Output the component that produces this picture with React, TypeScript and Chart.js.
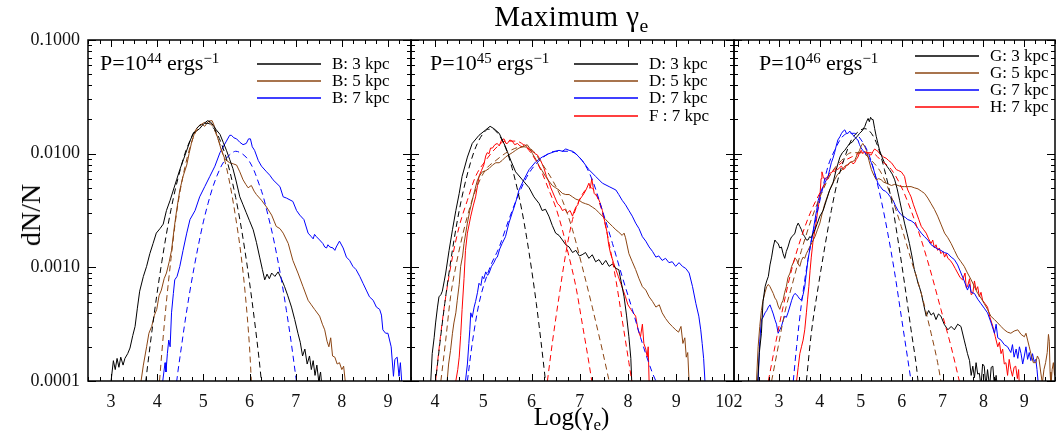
import React, { useEffect, useRef } from 'react';
import { Chart, registerables } from 'chart.js';
Chart.register(...registerables);

// ---------------- DATA ----------------
const X_TICKS_P1 = [3, 4, 5, 6, 7, 8, 9];
const X_TICKS_P2 = [4, 5, 6, 7, 8, 9, 10];
const X_TICKS_P3 = [2, 3, 4, 5, 6, 7, 8, 9];
const Y_TICKS = [0.0001, 0.001, 0.01, 0.1];
const X_RANGE_P1 = [2.5, 9.5];
const X_RANGE_P2 = [3.5, 10.2];
const X_RANGE_P3 = [1.9, 9.75];
const Y_RANGE = [0.0001, 0.1];

const POWERS = ['44', '45', '46'];
const LEGEND_P1 = ['B: 3 kpc', 'B: 5 kpc', 'B: 7 kpc'];
const LEGEND_P2 = ['D: 3 kpc', 'D: 5 kpc', 'D: 7 kpc', 'F : 7 kpc'];
const LEGEND_P3 = ['G: 3 kpc', 'G: 5 kpc', 'G: 7 kpc', 'H: 7 kpc'];

// Panel 1 (P = 1e44)
const P1_B3 = [[3.00,0.0001],[3.05,0.000151],[3.09,0.000126],[3.13,0.000158],[3.17,0.000132],[3.21,0.000162],[3.26,0.000138],[3.30,0.000158],[3.36,0.000174],[3.41,0.000195],[3.47,0.000251],[3.52,0.000302],[3.57,0.000437],[3.62,0.000617],[3.70,0.000832],[3.77,0.00102],[3.84,0.00132],[3.91,0.00162],[3.98,0.0020],[4.06,0.00219],[4.13,0.0024],[4.20,0.00316],[4.28,0.00389],[4.35,0.00479],[4.42,0.00589],[4.49,0.00724],[4.57,0.00891],[4.64,0.0107],[4.71,0.0129],[4.78,0.0151],[4.85,0.0158],[4.92,0.0166],[5.00,0.0182],[5.09,0.0195],[5.15,0.0191],[5.21,0.0178],[5.28,0.0162],[5.36,0.0148],[5.43,0.0126],[5.50,0.0107],[5.57,0.00891],[5.64,0.00741],[5.71,0.00575],[5.79,0.00417],[5.86,0.00355],[5.93,0.00302],[6.00,0.00257],[6.08,0.00214],[6.15,0.00166],[6.22,0.00123],[6.28,0.000955],[6.33,0.000776],[6.38,0.000871],[6.43,0.000794],[6.48,0.000891],[6.55,0.000832],[6.62,0.000912],[6.69,0.000794],[6.76,0.000676],[6.83,0.000562],[6.91,0.000447],[6.98,0.000347],[7.05,0.000263],[7.10,0.000219],[7.15,0.000166],[7.20,0.000191],[7.25,0.000141],[7.30,0.000166],[7.34,0.000126],[7.38,0.000151],[7.42,0.000112],[7.46,0.000138],[7.50,0.0001],[7.54,0.00012],[7.57,0.0000891]];
const P1_B3_FIT = [[3.75,0.0000977],[3.80,0.000145],[3.90,0.000305],[4.00,0.000603],[4.10,0.00112],[4.20,0.00197],[4.30,0.00324],[4.40,0.00501],[4.50,0.00724],[4.60,0.0100],[4.70,0.0127],[4.80,0.0155],[4.90,0.0174],[5.00,0.0185],[5.10,0.0185],[5.20,0.0172],[5.30,0.0149],[5.40,0.0120],[5.50,0.00904],[5.60,0.00631],[5.70,0.00412],[5.80,0.00251],[5.90,0.00141],[6.00,0.000741],[6.10,0.000363],[6.20,0.000166],[6.26,0.0000977]];
const P1_B5 = [[3.65,0.0001],[3.70,0.000138],[3.77,0.0002],[3.82,0.000263],[3.88,0.000302],[3.94,0.00038],[3.99,0.000427],[4.04,0.000562],[4.09,0.000631],[4.15,0.000794],[4.20,0.000891],[4.26,0.00112],[4.31,0.00141],[4.37,0.00224],[4.42,0.00316],[4.49,0.00479],[4.56,0.00631],[4.64,0.00794],[4.69,0.0100],[4.74,0.0123],[4.82,0.0158],[4.87,0.0170],[4.92,0.0178],[4.97,0.0182],[5.03,0.0174],[5.10,0.0191],[5.15,0.0195],[5.19,0.0195],[5.24,0.0174],[5.28,0.0151],[5.34,0.0126],[5.39,0.0107],[5.47,0.00891],[5.57,0.00832],[5.65,0.00813],[5.72,0.00794],[5.79,0.00692],[5.86,0.00589],[5.92,0.00537],[5.97,0.00501],[6.04,0.00525],[6.10,0.00468],[6.15,0.00437],[6.26,0.00389],[6.37,0.00339],[6.48,0.00288],[6.54,0.00251],[6.58,0.00229],[6.66,0.00219],[6.73,0.0020],[6.84,0.00162],[6.94,0.00115],[7.05,0.000891],[7.16,0.000676],[7.27,0.000513],[7.34,0.000468],[7.41,0.000427],[7.52,0.000372],[7.58,0.000316],[7.63,0.000282],[7.68,0.000224],[7.72,0.0002],[7.76,0.00024],[7.80,0.000166],[7.85,0.000162],[7.90,0.000141],[7.95,0.000145],[8.00,0.000126],[8.04,0.000135],[8.08,0.0000955]];
const P1_B5_FIT = [[4.05,0.0001],[4.10,0.000178],[4.20,0.000501],[4.30,0.0012],[4.40,0.00263],[4.50,0.00479],[4.60,0.00759],[4.70,0.011],[4.80,0.0145],[4.90,0.017],[5.00,0.0186],[5.10,0.0191],[5.20,0.0174],[5.30,0.0141],[5.40,0.0107],[5.50,0.00759],[5.60,0.00479],[5.70,0.00275],[5.80,0.00145],[5.90,0.000631],[6.00,0.0002],[6.04,0.0001]];
const P1_B7 = [[4.12,0.0001],[4.17,0.000145],[4.19,0.00012],[4.22,0.000174],[4.25,0.000229],[4.28,0.0002],[4.31,0.000398],[4.35,0.000589],[4.38,0.000776],[4.43,0.000832],[4.49,0.00102],[4.56,0.00141],[4.64,0.0020],[4.71,0.00263],[4.82,0.00316],[4.92,0.00417],[5.03,0.00513],[5.14,0.00631],[5.25,0.00776],[5.36,0.0102],[5.50,0.0129],[5.57,0.0145],[5.61,0.0145],[5.66,0.0138],[5.72,0.0135],[5.79,0.0126],[5.86,0.012],[5.93,0.0123],[5.98,0.0135],[6.02,0.0135],[6.06,0.0115],[6.11,0.0107],[6.19,0.00871],[6.26,0.00776],[6.37,0.00692],[6.44,0.00646],[6.51,0.00589],[6.66,0.00513],[6.73,0.00417],[6.80,0.00407],[6.94,0.0038],[7.02,0.00316],[7.09,0.00288],[7.18,0.00263],[7.27,0.0020],[7.34,0.00186],[7.38,0.00178],[7.41,0.00195],[7.45,0.00186],[7.52,0.00174],[7.59,0.00162],[7.63,0.00151],[7.67,0.00148],[7.70,0.00158],[7.74,0.00151],[7.81,0.00148],[7.85,0.00141],[7.88,0.00151],[7.95,0.0017],[8.03,0.00148],[8.10,0.00123],[8.17,0.00115],[8.24,0.00102],[8.31,0.000955],[8.39,0.000832],[8.46,0.000724],[8.53,0.000631],[8.60,0.00055],[8.68,0.000513],[8.75,0.000447],[8.82,0.000427],[8.86,0.00038],[8.89,0.000282],[8.95,0.000263],[9.00,0.000263],[9.07,0.0002],[9.12,0.00011],[9.15,0.000155],[9.20,0.000162],[9.24,0.00011],[9.27,0.000145],[9.30,0.0000977]];
const P1_B7_FIT = [[4.42,0.0000977],[4.45,0.000122],[4.50,0.00017],[4.60,0.000327],[4.70,0.000589],[4.80,0.001],[4.90,0.00162],[5.00,0.00251],[5.10,0.00363],[5.20,0.00501],[5.30,0.00646],[5.40,0.00794],[5.50,0.00912],[5.60,0.01],[5.70,0.0105],[5.80,0.0102],[5.90,0.00955],[6.00,0.00851],[6.10,0.00708],[6.20,0.0055],[6.30,0.00417],[6.40,0.00288],[6.50,0.00195],[6.60,0.00123],[6.70,0.000741],[6.80,0.000417],[6.90,0.000224],[7.00,0.000112],[7.02,0.0000977]];

// Panel 2 (P = 1e45)
const P2_D3 = [[3.91,0.0001],[3.94,0.000174],[3.98,0.00024],[4.01,0.000324],[4.05,0.000447],[4.08,0.00055],[4.12,0.000575],[4.15,0.000617],[4.19,0.000759],[4.22,0.000891],[4.29,0.00141],[4.36,0.00214],[4.43,0.00316],[4.50,0.00447],[4.56,0.00631],[4.67,0.00933],[4.77,0.0123],[4.91,0.0145],[5.05,0.0162],[5.14,0.0174],[5.22,0.0166],[5.33,0.0151],[5.46,0.0115],[5.57,0.00871],[5.67,0.00692],[5.81,0.00589],[5.95,0.00501],[6.05,0.00417],[6.16,0.00363],[6.22,0.00316],[6.29,0.00324],[6.36,0.00282],[6.43,0.00234],[6.50,0.0020],[6.57,0.00191],[6.64,0.00174],[6.71,0.00158],[6.78,0.00151],[6.85,0.00135],[6.92,0.00141],[6.99,0.00126],[7.05,0.00129],[7.12,0.00135],[7.19,0.0012],[7.26,0.00129],[7.33,0.00112],[7.40,0.00117],[7.47,0.00105],[7.54,0.00115],[7.61,0.00102],[7.68,0.00107],[7.75,0.000977],[7.81,0.000955],[7.87,0.000708],[7.92,0.00055],[7.97,0.00038],[8.02,0.000245],[8.06,0.000158],[8.08,0.0000955]];
const P2_D3_FIT = [[4.00,0.0000912],[4.05,0.000141],[4.10,0.000216],[4.20,0.000479],[4.30,0.000966],[4.40,0.00182],[4.50,0.00316],[4.60,0.00501],[4.70,0.00741],[4.80,0.0102],[4.90,0.0129],[5.00,0.0151],[5.10,0.0164],[5.20,0.0164],[5.30,0.0151],[5.40,0.0129],[5.50,0.0102],[5.60,0.00741],[5.70,0.00501],[5.80,0.00316],[5.90,0.00182],[6.00,0.000966],[6.10,0.000479],[6.20,0.000216],[6.25,0.000141],[6.30,0.0000912]];
const P2_D5 = [[4.25,0.0001],[4.28,0.000141],[4.32,0.000186],[4.36,0.000263],[4.39,0.000324],[4.43,0.000398],[4.46,0.000513],[4.50,0.000708],[4.53,0.00102],[4.57,0.00126],[4.60,0.00162],[4.67,0.00245],[4.72,0.00316],[4.77,0.00389],[4.83,0.0049],[4.88,0.00589],[4.93,0.00646],[4.98,0.00692],[5.05,0.00708],[5.12,0.00741],[5.19,0.00794],[5.26,0.00832],[5.33,0.00832],[5.39,0.00871],[5.46,0.00933],[5.53,0.00977],[5.60,0.0102],[5.67,0.0107],[5.74,0.0112],[5.81,0.0115],[5.86,0.0117],[5.91,0.012],[5.96,0.0112],[6.02,0.0100],[6.09,0.00891],[6.16,0.00776],[6.22,0.00708],[6.29,0.00631],[6.36,0.00575],[6.43,0.00525],[6.50,0.00501],[6.57,0.00479],[6.64,0.00447],[6.71,0.00437],[6.78,0.00437],[6.85,0.00417],[6.92,0.00398],[6.99,0.00389],[7.05,0.00372],[7.12,0.00363],[7.19,0.00355],[7.26,0.00339],[7.33,0.00324],[7.40,0.00302],[7.47,0.00282],[7.54,0.00263],[7.61,0.00245],[7.68,0.00229],[7.75,0.00214],[7.81,0.00204],[7.88,0.00191],[7.92,0.0020],[7.95,0.00182],[8.02,0.00132],[8.09,0.00112],[8.16,0.000955],[8.23,0.000794],[8.30,0.000676],[8.37,0.000631],[8.44,0.00055],[8.51,0.000501],[8.58,0.000447],[8.65,0.000468],[8.71,0.000398],[8.78,0.000355],[8.85,0.000324],[8.92,0.000302],[8.99,0.000282],[9.05,0.000269],[9.10,0.000302],[9.14,0.000214],[9.18,0.00024],[9.21,0.000162],[9.24,0.000178],[9.27,0.0000955]];
const P2_D5_FIT = [[4.12,0.0001],[4.22,0.000229],[4.32,0.00055],[4.43,0.00102],[4.53,0.00162],[4.67,0.00282],[4.84,0.00479],[5.05,0.00724],[5.26,0.00871],[5.53,0.0105],[5.81,0.0115],[6.02,0.0107],[6.22,0.00813],[6.43,0.00589],[6.64,0.00389],[6.85,0.00214],[7.05,0.00102],[7.26,0.000447],[7.47,0.000186],[7.61,0.0001]];
const P2_D7 = [[4.63,0.0001],[4.67,0.000141],[4.70,0.000214],[4.72,0.000282],[4.74,0.000398],[4.77,0.000363],[4.81,0.000447],[4.84,0.000501],[4.88,0.000603],[4.91,0.000724],[4.95,0.000692],[4.98,0.000832],[5.01,0.000794],[5.05,0.000912],[5.09,0.000851],[5.12,0.000891],[5.17,0.00102],[5.22,0.0011],[5.26,0.0012],[5.29,0.00123],[5.34,0.00145],[5.39,0.00162],[5.46,0.00186],[5.53,0.00245],[5.60,0.00302],[5.64,0.00339],[5.69,0.00398],[5.74,0.00479],[5.84,0.00589],[5.95,0.00724],[6.09,0.00851],[6.22,0.00933],[6.36,0.0100],[6.50,0.0105],[6.57,0.0107],[6.64,0.0105],[6.71,0.011],[6.78,0.0107],[6.85,0.0105],[6.92,0.0100],[7.05,0.00871],[7.19,0.00724],[7.33,0.00631],[7.47,0.0055],[7.61,0.00513],[7.75,0.00479],[7.81,0.00437],[7.88,0.00389],[7.95,0.00355],[8.02,0.00316],[8.09,0.00282],[8.16,0.00245],[8.23,0.00219],[8.30,0.00186],[8.37,0.0017],[8.44,0.00151],[8.51,0.00138],[8.58,0.00123],[8.64,0.00126],[8.71,0.00115],[8.78,0.0012],[8.85,0.0011],[8.92,0.00112],[8.99,0.00102],[9.06,0.0011],[9.13,0.00102],[9.20,0.000977],[9.27,0.000891],[9.34,0.000676],[9.41,0.000479],[9.47,0.000372],[9.51,0.000282],[9.54,0.000214],[9.57,0.000158],[9.60,0.0000955]];
const P2_D7_FIT = [[4.67,0.0001],[4.77,0.000214],[4.91,0.000479],[5.12,0.000955],[5.33,0.00151],[5.53,0.00263],[5.74,0.00447],[5.95,0.00676],[6.22,0.00912],[6.50,0.0105],[6.78,0.0105],[7.05,0.00871],[7.26,0.00589],[7.47,0.00316],[7.68,0.00162],[7.88,0.000832],[8.09,0.000427],[8.30,0.000214],[8.51,0.000117],[8.58,0.0001]];
const P2_F7 = [[4.43,0.0001],[4.47,0.000126],[4.50,0.000162],[4.53,0.000251],[4.56,0.000427],[4.60,0.000794],[4.63,0.00141],[4.67,0.0020],[4.74,0.00282],[4.79,0.00347],[4.84,0.00417],[4.88,0.00525],[4.91,0.00631],[4.96,0.00708],[5.01,0.00794],[5.05,0.00955],[5.08,0.0102],[5.12,0.0100],[5.15,0.0112],[5.19,0.0112],[5.24,0.012],[5.29,0.0123],[5.33,0.0117],[5.38,0.0132],[5.43,0.0135],[5.47,0.0123],[5.50,0.0123],[5.55,0.0132],[5.60,0.0129],[5.65,0.012],[5.71,0.0123],[5.76,0.0117],[5.81,0.0115],[5.86,0.012],[5.91,0.0115],[5.97,0.0107],[6.02,0.0105],[6.07,0.0100],[6.12,0.00977],[6.19,0.00871],[6.26,0.00741],[6.31,0.00631],[6.36,0.00562],[6.40,0.00501],[6.43,0.00468],[6.48,0.00417],[6.54,0.00363],[6.59,0.00347],[6.64,0.00316],[6.69,0.00324],[6.74,0.00302],[6.80,0.00316],[6.85,0.00282],[6.88,0.00309],[6.92,0.00339],[6.96,0.00355],[6.99,0.00389],[7.04,0.00417],[7.09,0.00447],[7.14,0.0049],[7.19,0.0055],[7.22,0.00501],[7.25,0.00603],[7.28,0.00501],[7.30,0.00447],[7.37,0.00417],[7.42,0.00372],[7.47,0.00316],[7.52,0.00251],[7.57,0.0020],[7.60,0.00158],[7.64,0.00132],[7.70,0.0011],[7.75,0.000955],[7.80,0.000832],[7.85,0.000724],[7.90,0.000631],[7.95,0.00055],[8.00,0.000468],[8.06,0.000427],[8.11,0.000398],[8.16,0.000372],[8.21,0.000282],[8.26,0.000245],[8.30,0.000316],[8.33,0.000214],[8.37,0.000191],[8.40,0.000162],[8.42,0.0002],[8.44,0.0000955]];
const P2_F7_FIT_A = [[4.01,0.0001],[4.11,0.000245],[4.22,0.00055],[4.36,0.00123],[4.50,0.00229],[4.67,0.00389],[4.84,0.00631],[5.05,0.00871],[5.26,0.0112],[5.46,0.0129],[5.67,0.0129],[5.88,0.0115],[6.09,0.00871],[6.22,0.00676],[6.36,0.00479],[6.50,0.00339],[6.64,0.00214],[6.78,0.00123],[6.92,0.000676],[7.05,0.000324],[7.19,0.000145],[7.25,0.0001]];
const P2_F7_FIT_B = [[6.33,0.0001],[6.43,0.000214],[6.57,0.00055],[6.71,0.00132],[6.85,0.00263],[6.99,0.00389],[7.12,0.00479],[7.23,0.00501],[7.33,0.00447],[7.47,0.00302],[7.61,0.00162],[7.75,0.000776],[7.88,0.000347],[8.02,0.000145],[8.08,0.0001]];

// Panel 3 (P = 1e46)
const P3_G3 = [[2.48,0.0001],[2.52,0.000178],[2.57,0.000263],[2.61,0.000501],[2.66,0.000676],[2.70,0.000759],[2.74,0.000832],[2.78,0.00105],[2.82,0.00123],[2.86,0.00151],[2.90,0.00174],[2.94,0.00166],[2.98,0.00162],[3.02,0.00148],[3.06,0.00151],[3.10,0.00132],[3.14,0.0012],[3.18,0.00138],[3.22,0.00151],[3.27,0.00174],[3.31,0.00186],[3.35,0.00191],[3.39,0.0020],[3.43,0.00229],[3.47,0.00245],[3.51,0.00229],[3.55,0.00214],[3.59,0.00195],[3.63,0.00186],[3.67,0.00174],[3.71,0.00174],[3.75,0.00186],[3.79,0.00182],[3.84,0.0020],[3.88,0.00214],[3.94,0.00245],[4.00,0.00282],[4.08,0.00316],[4.16,0.00389],[4.24,0.00479],[4.32,0.0055],[4.40,0.00724],[4.49,0.00933],[4.55,0.0102],[4.61,0.0107],[4.67,0.0115],[4.73,0.0123],[4.79,0.0126],[4.85,0.0135],[4.91,0.0141],[4.97,0.0151],[5.03,0.0158],[5.10,0.0174],[5.14,0.0191],[5.18,0.0204],[5.21,0.0191],[5.24,0.0209],[5.27,0.020],[5.30,0.020],[5.34,0.0166],[5.38,0.0141],[5.42,0.0123],[5.46,0.0107],[5.52,0.00933],[5.58,0.00832],[5.64,0.00776],[5.70,0.00724],[5.77,0.00661],[5.83,0.00589],[5.89,0.0049],[5.95,0.00389],[6.01,0.00309],[6.07,0.00245],[6.13,0.0020],[6.19,0.00162],[6.25,0.00126],[6.31,0.000955],[6.36,0.000832],[6.40,0.000724],[6.44,0.000661],[6.48,0.000589],[6.54,0.000468],[6.60,0.000372],[6.66,0.000417],[6.72,0.00038],[6.78,0.000398],[6.84,0.000347],[6.90,0.000389],[6.96,0.000372],[7.04,0.000316],[7.13,0.000282],[7.21,0.000302],[7.29,0.000282],[7.37,0.000316],[7.45,0.000302],[7.53,0.000229],[7.57,0.0002],[7.61,0.000174],[7.66,0.000151],[7.70,0.000112],[7.74,0.000135],[7.78,0.000107],[7.82,0.000145],[7.86,0.000115],[7.90,0.000117],[7.94,0.0000891],[7.98,0.000141],[8.02,0.000135],[8.06,0.0000891],[8.10,0.000126],[8.15,0.0000891],[8.19,0.000132],[8.23,0.000135],[8.27,0.0000891],[8.31,0.000112],[8.34,0.0000891]];
const P3_G3_FIT = [[3.67,0.0001],[3.79,0.000263],[3.96,0.000676],[4.12,0.00151],[4.28,0.00316],[4.44,0.00589],[4.61,0.00933],[4.77,0.0132],[4.93,0.0155],[5.10,0.0166],[5.26,0.0151],[5.42,0.0115],[5.58,0.00724],[5.75,0.00389],[5.91,0.00174],[6.07,0.000724],[6.23,0.000282],[6.36,0.000135],[6.40,0.0001]];
const P3_G5 = [[2.45,0.0001],[2.49,0.0002],[2.53,0.000302],[2.57,0.000417],[2.61,0.000513],[2.66,0.000603],[2.70,0.000676],[2.74,0.000708],[2.78,0.000676],[2.82,0.000631],[2.86,0.000589],[2.90,0.000537],[2.94,0.000513],[2.98,0.000457],[3.02,0.000427],[3.06,0.000479],[3.10,0.000513],[3.14,0.000603],[3.18,0.000676],[3.22,0.000813],[3.27,0.000891],[3.31,0.00102],[3.35,0.0011],[3.39,0.0012],[3.43,0.00117],[3.47,0.00107],[3.51,0.00102],[3.55,0.00115],[3.59,0.00123],[3.63,0.0012],[3.67,0.00132],[3.71,0.00141],[3.75,0.00151],[3.81,0.00166],[3.88,0.00186],[3.94,0.00214],[4.00,0.00245],[4.06,0.00302],[4.12,0.00363],[4.18,0.00417],[4.24,0.00479],[4.30,0.00537],[4.36,0.00589],[4.42,0.00646],[4.49,0.00692],[4.55,0.00724],[4.61,0.00776],[4.67,0.00794],[4.73,0.00832],[4.79,0.00851],[4.85,0.00871],[4.91,0.00977],[4.97,0.0107],[5.01,0.0117],[5.05,0.0123],[5.10,0.0115],[5.14,0.0107],[5.20,0.00871],[5.26,0.00724],[5.32,0.00646],[5.38,0.00589],[5.44,0.00603],[5.50,0.00589],[5.56,0.00562],[5.62,0.0055],[5.69,0.00537],[5.75,0.00525],[5.83,0.00537],[5.91,0.00525],[5.99,0.00513],[6.07,0.00513],[6.15,0.00513],[6.23,0.00513],[6.31,0.00501],[6.40,0.0049],[6.48,0.00468],[6.56,0.00447],[6.64,0.00407],[6.72,0.00363],[6.80,0.00324],[6.88,0.00282],[6.96,0.0024],[7.05,0.0020],[7.13,0.00182],[7.21,0.00162],[7.29,0.00141],[7.37,0.00123],[7.45,0.00112],[7.53,0.00102],[7.61,0.000891],[7.70,0.000776],[7.78,0.000676],[7.86,0.000589],[7.94,0.000537],[8.02,0.000479],[8.10,0.000427],[8.18,0.000372],[8.27,0.000347],[8.35,0.000324],[8.43,0.000302],[8.51,0.000282],[8.59,0.000269],[8.67,0.000263],[8.75,0.000275],[8.84,0.000282],[8.92,0.000257],[9.00,0.000245],[9.04,0.000263],[9.08,0.000229],[9.12,0.0002],[9.16,0.000174],[9.22,0.000145],[9.28,0.000145],[9.32,0.000166],[9.36,0.000155],[9.40,0.00012],[9.44,0.0000955],[9.48,0.000126],[9.52,0.000145],[9.56,0.000178],[9.59,0.000257],[9.61,0.000224],[9.63,0.00012],[9.65,0.0000891],[9.68,0.000126],[9.71,0.000145],[9.74,0.000112]];
const P3_G5_FIT = [[2.82,0.0001],[2.98,0.0002],[3.14,0.000398],[3.31,0.000676],[3.55,0.00141],[3.79,0.00263],[4.04,0.00447],[4.28,0.00676],[4.53,0.00871],[4.77,0.0102],[5.01,0.0102],[5.26,0.00871],[5.50,0.00676],[5.75,0.00417],[5.99,0.00229],[6.23,0.00117],[6.48,0.000589],[6.72,0.000263],[6.88,0.000145],[6.96,0.0001]];
const P3_G7 = [[2.49,0.0001],[2.53,0.000224],[2.57,0.000347],[2.61,0.000363],[2.66,0.000398],[2.70,0.000417],[2.74,0.000447],[2.78,0.000468],[2.82,0.000427],[2.86,0.000389],[2.90,0.000347],[2.94,0.000316],[2.98,0.000263],[3.02,0.000282],[3.06,0.000302],[3.10,0.000339],[3.14,0.000372],[3.18,0.000363],[3.22,0.000398],[3.27,0.000457],[3.31,0.000513],[3.35,0.000562],[3.39,0.000589],[3.43,0.000575],[3.47,0.00055],[3.51,0.000525],[3.55,0.000513],[3.59,0.000575],[3.63,0.000676],[3.67,0.000891],[3.71,0.00117],[3.75,0.00141],[3.79,0.00174],[3.84,0.00214],[3.88,0.00263],[3.92,0.00316],[3.96,0.00389],[4.00,0.00437],[4.04,0.00479],[4.08,0.00513],[4.12,0.0055],[4.16,0.00589],[4.20,0.00631],[4.24,0.00724],[4.28,0.00832],[4.32,0.00912],[4.36,0.0102],[4.40,0.0117],[4.44,0.0132],[4.49,0.0141],[4.53,0.0151],[4.57,0.0158],[4.61,0.0162],[4.65,0.0151],[4.69,0.0151],[4.73,0.0158],[4.77,0.0151],[4.81,0.0145],[4.85,0.0141],[4.89,0.0135],[4.93,0.0132],[4.97,0.012],[5.01,0.0112],[5.05,0.0107],[5.10,0.0102],[5.14,0.00977],[5.18,0.00933],[5.22,0.00891],[5.26,0.00832],[5.30,0.00759],[5.34,0.00676],[5.38,0.00603],[5.42,0.0055],[5.48,0.00513],[5.54,0.00479],[5.60,0.00468],[5.66,0.00447],[5.72,0.00417],[5.79,0.00389],[5.85,0.00347],[5.91,0.00316],[5.97,0.00295],[6.03,0.00282],[6.09,0.00275],[6.15,0.00263],[6.23,0.00257],[6.31,0.00245],[6.40,0.00219],[6.48,0.0020],[6.56,0.00186],[6.64,0.00174],[6.72,0.00158],[6.80,0.00151],[6.88,0.00145],[6.96,0.00141],[7.04,0.00135],[7.13,0.00132],[7.21,0.00123],[7.29,0.00117],[7.37,0.00105],[7.45,0.000891],[7.53,0.000759],[7.61,0.000631],[7.66,0.000708],[7.70,0.000603],[7.78,0.000589],[7.86,0.000525],[7.94,0.000479],[8.02,0.000437],[8.10,0.000398],[8.18,0.000331],[8.27,0.000263],[8.31,0.000316],[8.35,0.00024],[8.43,0.000229],[8.51,0.000209],[8.59,0.0002],[8.67,0.000178],[8.71,0.000209],[8.75,0.000162],[8.80,0.000191],[8.84,0.000158],[8.88,0.0002],[8.92,0.000174],[8.96,0.000141],[9.00,0.000166],[9.04,0.0002],[9.08,0.000155],[9.12,0.000178],[9.16,0.000151],[9.20,0.000174],[9.24,0.000148],[9.28,0.000155],[9.31,0.000126],[9.34,0.0000955]];
const P3_G7_FIT = [[3.35,0.0001],[3.43,0.0002],[3.55,0.000479],[3.71,0.00117],[3.88,0.00245],[4.04,0.00447],[4.20,0.00776],[4.36,0.0107],[4.53,0.0138],[4.69,0.0151],[4.85,0.0151],[5.01,0.0132],[5.18,0.0102],[5.34,0.00676],[5.50,0.00389],[5.66,0.0020],[5.83,0.000891],[5.99,0.000372],[6.15,0.000155],[6.23,0.0001]];
const P3_H7 = [[3.43,0.0001],[3.47,0.000132],[3.51,0.000174],[3.55,0.0002],[3.59,0.000229],[3.63,0.000282],[3.67,0.000398],[3.70,0.000525],[3.73,0.000676],[3.76,0.000933],[3.79,0.00123],[3.83,0.00166],[3.88,0.00214],[3.91,0.00251],[3.94,0.00302],[3.97,0.00355],[4.00,0.00417],[4.03,0.00603],[4.05,0.00692],[4.08,0.00631],[4.12,0.00589],[4.16,0.00617],[4.20,0.00631],[4.24,0.00676],[4.28,0.00676],[4.32,0.00708],[4.36,0.00692],[4.40,0.00741],[4.44,0.00724],[4.49,0.00759],[4.53,0.00776],[4.57,0.00724],[4.61,0.00741],[4.65,0.00794],[4.69,0.00794],[4.73,0.00832],[4.77,0.00851],[4.81,0.00813],[4.85,0.00832],[4.89,0.00891],[4.93,0.00933],[4.97,0.0102],[5.01,0.0107],[5.05,0.0100],[5.10,0.0105],[5.14,0.0100],[5.18,0.0102],[5.22,0.00977],[5.26,0.00977],[5.30,0.0105],[5.34,0.011],[5.38,0.0107],[5.42,0.0105],[5.46,0.0100],[5.50,0.00977],[5.56,0.00933],[5.62,0.00912],[5.68,0.00871],[5.75,0.00832],[5.81,0.00776],[5.87,0.00724],[5.93,0.00708],[5.99,0.00692],[6.03,0.00661],[6.07,0.00631],[6.11,0.00537],[6.15,0.00479],[6.19,0.00447],[6.23,0.00417],[6.29,0.00355],[6.36,0.00302],[6.42,0.00263],[6.48,0.00229],[6.54,0.00214],[6.60,0.0020],[6.66,0.00178],[6.72,0.00162],[6.76,0.00174],[6.80,0.00148],[6.84,0.00158],[6.88,0.00141],[6.92,0.00148],[6.96,0.00132],[7.01,0.00138],[7.05,0.00123],[7.09,0.00132],[7.13,0.0012],[7.19,0.00115],[7.25,0.00107],[7.31,0.000977],[7.37,0.000891],[7.43,0.000813],[7.49,0.000776],[7.55,0.000891],[7.58,0.000661],[7.61,0.000676],[7.66,0.000794],[7.70,0.000575],[7.74,0.000589],[7.78,0.000759],[7.82,0.000631],[7.86,0.000676],[7.90,0.00055],[7.94,0.000603],[7.98,0.000513],[8.04,0.000479],[8.10,0.000447],[8.16,0.000363],[8.23,0.000302],[8.29,0.000245],[8.35,0.0002],[8.39,0.000219],[8.43,0.000174],[8.47,0.000191],[8.51,0.000141],[8.55,0.000145],[8.59,0.000112],[8.63,0.000155],[8.67,0.000126],[8.71,0.00011],[8.75,0.000132],[8.79,0.000135],[8.83,0.000105],[8.86,0.000126],[8.88,0.0000891]];
const P3_H7_FIT = [[2.74,0.0001],[2.90,0.0002],[3.10,0.000447],[3.31,0.000955],[3.55,0.00186],[3.79,0.00316],[4.04,0.00479],[4.28,0.00676],[4.53,0.00832],[4.77,0.00933],[5.01,0.0102],[5.26,0.0102],[5.50,0.00871],[5.75,0.00724],[5.99,0.00513],[6.23,0.00316],[6.48,0.00174],[6.72,0.000891],[6.96,0.000427],[7.21,0.0002],[7.41,0.0001]];

// ---------------- STYLE / LAYOUT ----------------
const BLACK = '#000000';
const BROWN = '#8B4513';
const BLUE = '#0000FF';
const RED = '#FF0000';
const W = 1056;
const H = 434;
const PLOT_TOP = 40;
const PLOT_BOTTOM = 381;
const FONT = '"Liberation Serif", "Times New Roman", serif';

const PANELS = [
  {
    xRange: X_RANGE_P1, xTicks: X_TICKS_P1, left: 88, right: 411,
    series: [
      { solid: [P1_B3], fits: [P1_B3_FIT], color: BLACK },
      { solid: [P1_B5], fits: [P1_B5_FIT], color: BROWN },
      { solid: [P1_B7], fits: [P1_B7_FIT], color: BLUE },
    ],
    legendText: LEGEND_P1, legendColors: [BLACK, BROWN, BLUE],
    legendLineX: 257, legendTextX: 332, legendRows: [64, 81, 98], annX: 100,
  },
  {
    xRange: X_RANGE_P2, xTicks: X_TICKS_P2, left: 411, right: 734,
    series: [
      { solid: [P2_D3], fits: [P2_D3_FIT], color: BLACK },
      { solid: [P2_D5], fits: [P2_D5_FIT], color: BROWN },
      { solid: [P2_D7], fits: [P2_D7_FIT], color: BLUE },
      { solid: [P2_F7], fits: [P2_F7_FIT_A, P2_F7_FIT_B], color: RED },
    ],
    legendText: LEGEND_P2, legendColors: [BLACK, BROWN, BLUE, RED],
    legendLineX: 574, legendTextX: 649, legendRows: [64, 81, 98, 116], annX: 430,
  },
  {
    xRange: X_RANGE_P3, xTicks: X_TICKS_P3, left: 734, right: 1055,
    series: [
      { solid: [P3_G3], fits: [P3_G3_FIT], color: BLACK },
      { solid: [P3_G5], fits: [P3_G5_FIT], color: BROWN },
      { solid: [P3_G7], fits: [P3_G7_FIT], color: BLUE },
      { solid: [P3_H7], fits: [P3_H7_FIT], color: RED },
    ],
    legendText: LEGEND_P3, legendColors: [BLACK, BROWN, BLUE, RED],
    legendLineX: 915, legendTextX: 990, legendRows: [56, 73, 90, 107], annX: 759,
  },
];

const toPts = (arr: number[][]) => arr.map(([x, y]) => ({ x, y }));

const frameTicksPlugin = {
  id: 'frameTicks',
  afterDatasetsDraw(chart: any) {
    const { ctx, chartArea } = chart;
    const { left, right, top, bottom } = chartArea;
    const xs = chart.scales.x;
    const ys = chart.scales.y;
    ctx.save();
    ctx.strokeStyle = '#000';
    ctx.lineWidth = 1;
    ctx.beginPath();
    const step = 0.25;
    const start = Math.ceil(xs.min / step - 1e-9) * step;
    for (let v = start; v <= xs.max + 1e-9; v += step) {
      const px = Math.round(xs.getPixelForValue(v)) + 0.5;
      const major = Math.abs(v - Math.round(v)) < 1e-6;
      const len = major ? 7 : 4;
      ctx.moveTo(px, bottom); ctx.lineTo(px, bottom - len);
      ctx.moveTo(px, top); ctx.lineTo(px, top + len);
    }
    for (let e = -4; e <= -1; e++) {
      for (let m = 1; m <= 9; m++) {
        const v = m * Math.pow(10, e);
        if (v < ys.min * 0.999 || v > ys.max * 1.001) continue;
        const py = Math.round(ys.getPixelForValue(v)) + 0.5;
        const len = m === 1 ? 8 : 4;
        ctx.moveTo(left, py); ctx.lineTo(left + len, py);
        ctx.moveTo(right, py); ctx.lineTo(right - len, py);
      }
    }
    ctx.stroke();
    ctx.lineWidth = 1.5;
    ctx.strokeRect(left, top, right - left, bottom - top);
    ctx.restore();
  },
};

function makeConfig(p: any, idx: number): any {
  const datasets: any[] = [];
  p.series.forEach((s: any) => {
    s.fits.forEach((f: number[][]) => {
      datasets.push({
        data: toPts(f), borderColor: s.color, borderWidth: 1, borderDash: [6, 4],
        pointRadius: 0, fill: false, cubicInterpolationMode: 'monotone',
      });
    });
  });
  p.series.forEach((s: any) => {
    s.solid.forEach((d: number[][]) => {
      datasets.push({
        data: toPts(d), borderColor: s.color, borderWidth: 1,
        pointRadius: 0, fill: false, tension: 0,
      });
    });
  });
  const yWidth = idx === 0 ? p.left : 0;
  return {
    type: 'line',
    data: { datasets },
    options: {
      animation: false,
      responsive: false,
      maintainAspectRatio: false,
      events: [],
      layout: {
        padding: { left: idx === 0 ? 0 : p.left, right: W - p.right, top: PLOT_TOP, bottom: 0 },
      },
      plugins: { legend: { display: false }, tooltip: { enabled: false }, title: { display: false } },
      scales: {
        x: {
          type: 'linear', position: 'bottom', min: p.xRange[0], max: p.xRange[1],
          grid: { display: false, drawTicks: false }, border: { display: false },
          afterBuildTicks: (s: any) => { s.ticks = p.xTicks.map((v: number) => ({ value: v })); },
          afterFit: (s: any) => { s.height = H - PLOT_BOTTOM; },
          ticks: {
            autoSkip: false, maxRotation: 0, padding: 10, color: '#111',
            font: { family: FONT, size: 18 },
            callback: (v: any) => String(v),
          },
        },
        y: {
          type: 'logarithmic', position: 'left', min: Y_RANGE[0], max: Y_RANGE[1],
          display: idx === 0,
          grid: { display: false, drawTicks: false }, border: { display: false },
          afterBuildTicks: (s: any) => { s.ticks = Y_TICKS.map((v) => ({ value: v })); },
          afterFit: (s: any) => { s.width = yWidth; },
          ticks: {
            autoSkip: false, padding: 8, color: '#111',
            font: { family: FONT, size: 18 },
            callback: (v: any) => Number(v).toFixed(4),
          },
        },
      },
    },
    plugins: [frameTicksPlugin],
  };
}

const SUP: React.CSSProperties = { fontSize: '0.68em', position: 'relative', top: '-0.5em' };
const SUB: React.CSSProperties = { fontSize: '0.68em', position: 'relative', top: '0.3em' };

export default function App() {
  const r0 = useRef<HTMLCanvasElement>(null);
  const r1 = useRef<HTMLCanvasElement>(null);
  const r2 = useRef<HTMLCanvasElement>(null);
  const refs = [r0, r1, r2];

  useEffect(() => {
    const charts = PANELS.map((p, i) => new Chart(refs[i].current as HTMLCanvasElement, makeConfig(p, i)));
    return () => charts.forEach((c) => c.destroy());
  }, []);

  return (
    <div style={{ position: 'fixed', left: 0, top: 0, width: W, height: H, background: '#fff', fontFamily: FONT, color: '#000', overflow: 'hidden' }}>
      {refs.map((r, i) => (
        <canvas key={i} ref={r} width={W} height={H} style={{ position: 'absolute', left: 0, top: 0, width: W, height: H }} />
      ))}
      <div style={{ position: 'absolute', left: 88, width: 967, top: 2, textAlign: 'center', fontSize: 29, lineHeight: '29px', letterSpacing: '0.5px', whiteSpace: 'nowrap' }}>
        Maximum γ<span style={SUB}>e</span>
      </div>
      <div style={{ position: 'absolute', left: 31, top: 215, transform: 'translate(-50%, -50%) rotate(-90deg)', fontSize: 28, lineHeight: '28px', whiteSpace: 'nowrap' }}>
        dN/N
      </div>
      <div style={{ position: 'absolute', left: 88, width: 967, top: 404, textAlign: 'center', fontSize: 25, lineHeight: '25px', whiteSpace: 'nowrap' }}>
        Log(γ<span style={SUB}>e</span>)
      </div>
      {PANELS.map((p, i) => (
        <React.Fragment key={'p' + i}>
          <div style={{ position: 'absolute', left: p.annX, top: 52, fontSize: 22, lineHeight: '22px', whiteSpace: 'nowrap' }}>
            P=10<span style={SUP}>{POWERS[i]}</span> ergs<span style={SUP}>−1</span>
          </div>
          {p.legendText.map((t, j) => (
            <React.Fragment key={'l' + j}>
              <div style={{ position: 'absolute', left: p.legendLineX, top: p.legendRows[j] - 1, width: 64, height: 2, background: p.legendColors[j], opacity: 0.75 }} />
              <div style={{ position: 'absolute', left: p.legendTextX, top: p.legendRows[j] - 9, fontSize: 17, lineHeight: '18px', whiteSpace: 'pre' }}>{t}</div>
            </React.Fragment>
          ))}
        </React.Fragment>
      ))}
    </div>
  );
}
